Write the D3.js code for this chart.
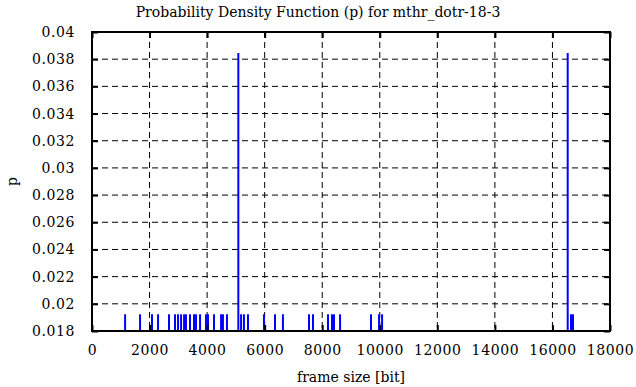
<!DOCTYPE html>
<html>
<head>
<meta charset="utf-8">
<script src="https://cdn.jsdelivr.net/npm/d3@7"></script>
<style>
  body { margin: 0; background: #fff; }
  text { font-family: "DejaVu Serif", serif; fill: #000; }
</style>
</head>
<body>
<svg id="chart"></svg>
<script>
const w = 636;
const h = 387;

const frameSizes = [1150, 1670, 2085, 2295, 2675, 2885, 2990, 3095, 3200, 3265,
  3405, 3545, 3615, 3755, 3960, 4030, 4240, 4485, 4550, 4690, 5085, 5180, 5280,
  5420, 5975, 6360, 6635, 7540, 7680, 8200, 8340, 8410, 8620, 9695, 9975, 10080,
  16530, 16645, 16715];
const probs = [0.01923, 0.01923, 0.01923, 0.01923, 0.01923, 0.01923, 0.01923,
  0.01923, 0.01923, 0.01923, 0.01923, 0.01923, 0.01923, 0.01923, 0.01923,
  0.01923, 0.01923, 0.01923, 0.01923, 0.01923, 0.03846, 0.01923, 0.01923,
  0.01923, 0.01923, 0.01923, 0.01923, 0.01923, 0.01923, 0.01923, 0.01923,
  0.01923, 0.01923, 0.01923, 0.01923, 0.01923, 0.03846, 0.01923, 0.01923];

const xTicks = d3.range(0, 18001, 2000);
const yTicks = [0.018, 0.02, 0.022, 0.024, 0.026, 0.028, 0.03, 0.032, 0.034, 0.036, 0.038, 0.04];

const titleText = "Probability Density Function (p) for mthr_dotr-18-3";
const xLabel = "frame size [bit]";
const yLabel = "p";

const data = frameSizes.map((v, i) => ({ v, p: probs[i] }));

// layout
const margin = { top: 32, right: 26, bottom: 56, left: 92 };
const width = w - margin.left - margin.right;
const height = h - margin.top - margin.bottom;

const svg = d3.select("#chart")
  .attr("width", w)
  .attr("height", h);

const chart = svg.append("g")
  .attr("transform", `translate(${margin.left},${margin.top})`);

const x = d3.scaleLinear().domain([0, 18000]).range([0, width]);
const y = d3.scaleLinear().domain([0.018, 0.04]).range([height, 0]);

// grid
chart.append("g")
  .selectAll("line.vgrid")
  .data(xTicks.slice(1, -1))
  .join("line")
  .attr("x1", d => x(d)).attr("x2", d => x(d))
  .attr("y1", 0).attr("y2", height)
  .attr("stroke", "#000").attr("stroke-width", 1)
  .attr("stroke-dasharray", "6,4");

chart.append("g")
  .selectAll("line.hgrid")
  .data(yTicks.slice(1, -1))
  .join("line")
  .attr("x1", 0).attr("x2", width)
  .attr("y1", d => y(d)).attr("y2", d => y(d))
  .attr("stroke", "#000").attr("stroke-width", 1)
  .attr("stroke-dasharray", "6,4");

// impulses
chart.append("g")
  .selectAll("line.imp")
  .data(data)
  .join("line")
  .attr("x1", d => x(d.v)).attr("x2", d => x(d.v))
  .attr("y1", height).attr("y2", d => y(d.p))
  .attr("stroke", "#0000ff").attr("stroke-width", 2);

// axes: labels on bottom/left, inward ticks mirrored on all sides
const tickLen = 6;
const fmtY = d => String(+d.toFixed(3));

const xAxis = chart.append("g")
  .attr("transform", `translate(0,${height})`)
  .call(d3.axisBottom(x).tickValues(xTicks).tickSize(-tickLen).tickPadding(14).tickFormat(d => d));
const xTop = chart.append("g")
  .call(d3.axisTop(x).tickValues(xTicks).tickSize(-tickLen).tickFormat(""));
const yAxis = chart.append("g")
  .call(d3.axisLeft(y).tickValues(yTicks).tickSize(-tickLen).tickPadding(17).tickFormat(fmtY));
const yRight = chart.append("g")
  .attr("transform", `translate(${width},0)`)
  .call(d3.axisRight(y).tickValues(yTicks).tickSize(-tickLen).tickFormat(""));

[xAxis, xTop, yAxis, yRight].forEach(g => {
  g.select(".domain").remove();
  g.selectAll(".tick line").attr("stroke", "#000").attr("stroke-width", 2);
  g.selectAll("text").style("font-family", "DejaVu Serif, serif")
    .style("font-size", "14px").style("letter-spacing", "0.6px").attr("fill", "#000");
});

// frame
chart.append("rect")
  .attr("width", width).attr("height", height)
  .attr("fill", "none").attr("stroke", "#000").attr("stroke-width", 2);

// titles (title centred on the canvas, x label on the plot)
svg.append("text")
  .attr("x", w / 2)
  .attr("y", 17)
  .attr("text-anchor", "middle")
  .style("font-size", "14px")
  .text(titleText);

svg.append("text")
  .attr("x", margin.left + width / 2)
  .attr("y", 382)
  .attr("text-anchor", "middle")
  .style("font-size", "14px")
  .text(xLabel);

svg.append("text")
  .attr("transform", `translate(17,${margin.top + height / 2}) rotate(-90)`)
  .attr("text-anchor", "middle")
  .style("font-size", "14px")
  .text(yLabel);
</script>
</body>
</html>
